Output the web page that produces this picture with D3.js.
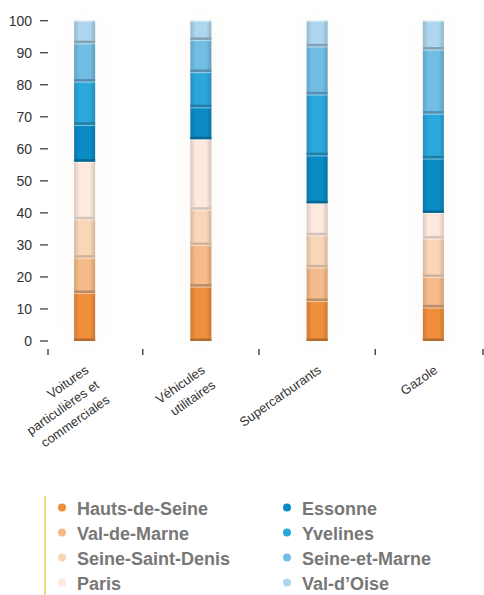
<!DOCTYPE html>
<html>
<head>
<meta charset="utf-8">
<script src="https://cdn.jsdelivr.net/npm/d3@7"></script>
<style>
  body { margin: 0; background: #fff; }
  svg { display: block; font-family: "Liberation Sans", Arial, sans-serif; }
</style>
</head>
<body>
<svg id="chart" width="484" height="595"></svg>
<script>
// categories and their wrapped label lines
var categories = ["Voitures particulières et commerciales", "Véhicules utilitaires", "Supercarburants", "Gazole"];
var categoryLines = [["Voitures", "particulières et", "commerciales"], ["Véhicules", "utilitaires"], ["Supercarburants"], ["Gazole"]];

// series, bottom to top (%)
var seriesNames = ["Hauts-de-Seine", "Val-de-Marne", "Seine-Saint-Denis", "Paris", "Essonne", "Yvelines", "Seine-et-Marne", "Val-d’Oise"];
var hautsDeSeine    = [15, 17, 12.5, 10.5];
var valDeMarne      = [11, 13, 10.5, 9.5];
var seineSaintDenis = [12, 11, 10, 12];
var paris           = [18, 22, 10, 8];
var essonne         = [11.5, 10, 15, 17];
var yvelines        = [13.5, 11, 19, 14];
var seineEtMarne    = [12, 10, 15, 20];
var valDOise        = [7, 6, 8, 9];
var seriesColors = ["#ef8f3c", "#f6bb8a", "#f9d6b8", "#fde9de", "#0b8bc6", "#2aa7db", "#72bde3", "#acd7ee"];

var yTicks = [0, 10, 20, 30, 40, 50, 60, 70, 80, 90, 100];

var allSeries = [hautsDeSeine, valDeMarne, seineSaintDenis, paris, essonne, yvelines, seineEtMarne, valDOise];

var rows = categories.map(function(c, i) {
  var r = { cat: c };
  seriesNames.forEach(function(s, j) { r[s] = allSeries[j][i]; });
  return r;
});

var svg = d3.select("#chart");

var x = d3.scaleBand().domain(categories).range([26.5, 491.5]).padding(0);
var y = d3.scaleLinear().domain([0, 100]).range([341, 20.7]);
var barW = 21;

var stack = d3.stack().keys(seriesNames);
var stacked = stack(rows);

// horizontal shading for the bars
var defs = svg.append("defs");
var grad = defs.append("linearGradient").attr("id", "shade").attr("x1", "0").attr("x2", "1").attr("y1", "0").attr("y2", "0");
grad.append("stop").attr("offset", "0").attr("stop-color", "#000").attr("stop-opacity", 0.14);
grad.append("stop").attr("offset", "0.25").attr("stop-color", "#000").attr("stop-opacity", 0.0);
grad.append("stop").attr("offset", "0.75").attr("stop-color", "#000").attr("stop-opacity", 0.0);
grad.append("stop").attr("offset", "1").attr("stop-color", "#000").attr("stop-opacity", 0.16);

defs.append("filter").attr("id", "glow").attr("x", "-200%").attr("width", "500%")
  .append("feGaussianBlur").attr("stdDeviation", 8);

// faint halo behind bars
svg.append("g").selectAll("rect")
  .data(categories)
  .enter().append("rect")
    .attr("x", function(d) { return x(d) + x.bandwidth() / 2 - barW / 2 - 6; })
    .attr("y", y(100))
    .attr("width", barW + 12)
    .attr("height", y(0) - y(100))
    .attr("fill", "#f3e9e2")
    .attr("opacity", 0.18)
    .attr("filter", "url(#glow)");

var layer = svg.append("g").selectAll("g")
  .data(stacked)
  .enter().append("g");

layer.each(function(s, j) {
  var g = d3.select(this);
  var col = seriesColors[j];
  var segs = g.selectAll("g").data(s).enter().append("g");
  segs.append("rect")
    .attr("x", function(d) { return x(d.data.cat) + x.bandwidth() / 2 - barW / 2; })
    .attr("y", function(d) { return y(d[1]); })
    .attr("width", barW)
    .attr("height", function(d) { return y(d[0]) - y(d[1]); })
    .attr("fill", col);
  segs.append("rect")
    .attr("x", function(d) { return x(d.data.cat) + x.bandwidth() / 2 - barW / 2; })
    .attr("y", function(d) { return y(d[1]); })
    .attr("width", barW)
    .attr("height", function(d) { return y(d[0]) - y(d[1]); })
    .attr("fill", "url(#shade)");
  // dark band at the bottom of each segment
  segs.append("rect")
    .attr("x", function(d) { return x(d.data.cat) + x.bandwidth() / 2 - barW / 2; })
    .attr("y", function(d) { return y(d[0]) - 2.5; })
    .attr("width", barW)
    .attr("height", 2.5)
    .attr("fill", d3.color(col).darker(j == 3 || j == 2 ? 0.5 : 0.8));
  // light line at the top
  segs.append("rect")
    .attr("x", function(d) { return x(d.data.cat) + x.bandwidth() / 2 - barW / 2; })
    .attr("y", function(d) { return y(d[1]); })
    .attr("width", barW)
    .attr("height", 1.2)
    .attr("fill", "#fff")
    .attr("opacity", 0.45);
});

// y axis
var yAxis = svg.append("g");
yAxis.selectAll("line")
  .data(yTicks)
  .enter().append("line")
    .attr("x1", 40).attr("x2", 48)
    .attr("y1", function(d) { return y(d); })
    .attr("y2", function(d) { return y(d); })
    .attr("stroke", "#333").attr("stroke-width", 1.2);
yAxis.selectAll("text")
  .data(yTicks)
  .enter().append("text")
    .attr("x", 32)
    .attr("y", function(d) { return y(d); })
    .attr("dy", "0.36em")
    .attr("text-anchor", "end")
    .attr("font-size", 14)
    .attr("fill", "#333")
    .text(function(d) { return d; });

// x axis tick marks
var xTickPos = [48].concat(categories.slice(1).map(function(c) { return x(c); })).concat([483]);
svg.append("g").selectAll("line")
  .data(xTickPos)
  .enter().append("line")
    .attr("x1", function(d) { return d; })
    .attr("x2", function(d) { return d; })
    .attr("y1", 349).attr("y2", 355)
    .attr("stroke", "#333").attr("stroke-width", 1.3);

// x labels
var xLab = svg.append("g").selectAll("text")
  .data(categories)
  .enter().append("text")
    .attr("transform", function(d) {
      return "translate(" + (x(d) + x.bandwidth() / 2 + 5) + ",372) rotate(-35)";
    })
    .attr("text-anchor", "end")
    .attr("font-size", 13)
    .attr("fill", "#333");
xLab.each(function(d, i) {
  var t = d3.select(this);
  categoryLines[i].forEach(function(line, k) {
    t.append("tspan").attr("x", 0).attr("y", 0).attr("dy", (k * 1.4) + "em").text(line);
  });
});

// legend
var legend = svg.append("g");
legend.append("line")
  .attr("x1", 45).attr("x2", 45).attr("y1", 496).attr("y2", 595)
  .attr("stroke", "#f2c94c").attr("stroke-width", 1.5);

var item = legend.selectAll("g")
  .data(seriesNames)
  .enter().append("g")
    .attr("transform", function(d, i) {
      var colX = i < 4 ? 62 : 287;
      return "translate(" + colX + "," + (515 + (i % 4) * 25) + ")";
    });
item.append("circle")
  .attr("cx", 0).attr("cy", -7.5).attr("r", 4)
  .attr("fill", function(d, i) { return seriesColors[i]; });
item.append("text")
  .attr("x", 15).attr("y", 0)
  .attr("font-size", 18).attr("font-weight", "bold")
  .attr("fill", "#777")
  .text(function(d) { return d; });
</script>
</body>
</html>
